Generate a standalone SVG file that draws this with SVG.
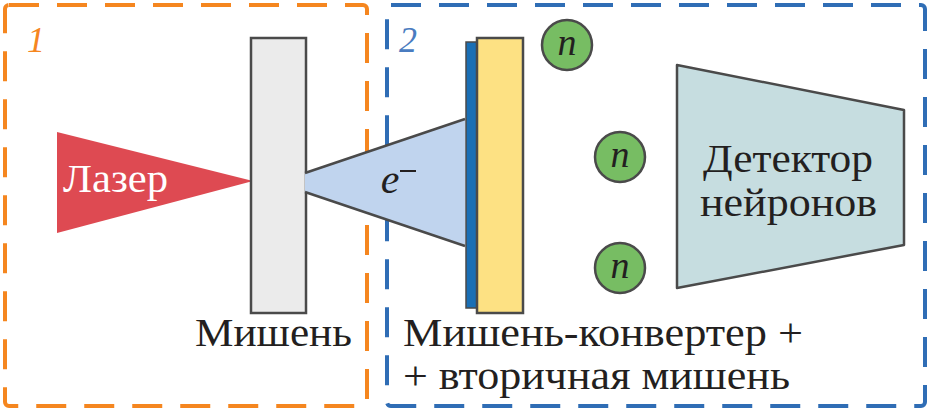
<svg xmlns="http://www.w3.org/2000/svg" width="930" height="411" viewBox="0 0 930 411">
<defs>
<marker id="unused" markerWidth="1" markerHeight="1"/>
</defs>
<rect width="930" height="411" fill="#fff"/>
<g id="box1">
<rect x="5" y="5" width="362" height="401" rx="4" fill="none" stroke="#f5861f" stroke-width="4" stroke-dasharray="30 18"/>
<text x="27" y="52" style="font-family:'Liberation Serif';font-size:36px;font-style:italic" fill="#f5861f">1</text>
</g>
<g id="box2">
<rect x="387" y="5" width="538" height="401" rx="4" fill="none" stroke="#2f6db5" stroke-width="4" stroke-dasharray="30 18"/>
<text x="399" y="52" style="font-family:'Liberation Serif';font-size:36px;font-style:italic" fill="#4a7cc0">2</text>
</g>
<g id="laser">
<polygon points="57,132 253,181 57,233" fill="#de4a52"/>
<text x="63" y="192" style="font-family:'Liberation Serif';font-size:40px" fill="#fff" textLength="105" lengthAdjust="spacingAndGlyphs">Лазер</text>
</g>
<g id="target">
<rect x="251" y="38" width="55" height="275" fill="#ebebeb" stroke="#4a4a4a" stroke-width="2.5"/>
<text x="195" y="346" style="font-family:'Liberation Serif';font-size:41px" fill="#231f20" textLength="157" lengthAdjust="spacingAndGlyphs">Мишень</text>
</g>
<g id="connectors">
<polygon points="305,173 465,119 465,246 305,192" fill="#c0d4ee"/>
<polyline points="305,173 465,119" fill="none" stroke="#4a4a4a" stroke-width="2.5"/>
<polyline points="305,192 465,246" fill="none" stroke="#4a4a4a" stroke-width="2.5"/>
<text x="390" y="193" style="font-family:'Liberation Serif';font-size:42px;font-style:italic" fill="#231f20" text-anchor="middle">e</text>
<line x1="400" y1="171" x2="416" y2="171" stroke="#231f20" stroke-width="2"/>
</g>
<g id="converter">
<rect x="466" y="42" width="13" height="266" fill="#1a6fb5" stroke="#4a4a4a" stroke-width="1.5"/>
<rect x="477" y="38" width="46" height="275" fill="#fde183" stroke="#4a4a4a" stroke-width="2.5"/>
<text x="403" y="346" style="font-family:'Liberation Serif';font-size:41px" fill="#231f20" textLength="400" lengthAdjust="spacingAndGlyphs">Мишень-конвертер +</text>
<text x="403" y="389" style="font-family:'Liberation Serif';font-size:41px" fill="#231f20" textLength="387" lengthAdjust="spacingAndGlyphs">+ вторичная мишень</text>
</g>
<g id="neutron1"><circle cx="567" cy="45" r="25" fill="#77bd63" stroke="#4a4a4a" stroke-width="2.5"/><text x="567" y="55" style="font-family:'Liberation Serif';font-size:38px;font-style:italic" fill="#231f20" text-anchor="middle">n</text></g>
<g id="neutron2"><circle cx="620" cy="157" r="25" fill="#77bd63" stroke="#4a4a4a" stroke-width="2.5"/><text x="620" y="167" style="font-family:'Liberation Serif';font-size:38px;font-style:italic" fill="#231f20" text-anchor="middle">n</text></g>
<g id="neutron3"><circle cx="620" cy="268" r="25" fill="#77bd63" stroke="#4a4a4a" stroke-width="2.5"/><text x="620" y="278" style="font-family:'Liberation Serif';font-size:38px;font-style:italic" fill="#231f20" text-anchor="middle">n</text></g>
<g id="detector">
<polygon points="677,65 904,110 904,245 677,288" fill="#c6dde0" stroke="#4a4a4a" stroke-width="2.5" stroke-linejoin="round"/>
<text x="703" y="172" style="font-family:'Liberation Serif';font-size:41px" fill="#231f20" textLength="170" lengthAdjust="spacingAndGlyphs">Детектор</text>
<text x="700" y="216" style="font-family:'Liberation Serif';font-size:41px" fill="#231f20" textLength="177" lengthAdjust="spacingAndGlyphs">нейронов</text>
</g>
</svg>
